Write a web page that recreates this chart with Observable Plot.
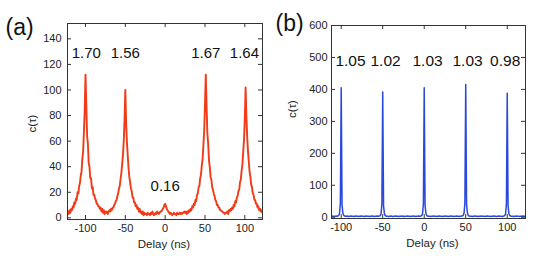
<!DOCTYPE html>
<html><head><meta charset="utf-8">
<script src="https://cdn.jsdelivr.net/npm/d3@7"></script>
<script src="https://cdn.jsdelivr.net/npm/@observablehq/plot@0.6"></script>
<style>
body{margin:0;background:#fff;}
#wrap{display:flex;width:540px;height:256px;}
</style></head><body><div id="wrap"></div>
<script>
// Panel (a): histogram counts, 1 ns bins starting at -122 ns
const startA = -122;
const countsA = [
 5,3,6,4,7,6,9,8,12,11,15,14,20,19,25,27,33,36,46,52,67,84,112,88,64,58,43,40,31,31,23,24,18,18,15,14,11,11,9,9,7,8,5,7,4,6,3,5,
 4,5,3,5,6,5,7,6,8,8,10,11,13,14,17,19,23,25,30,35,42,49,60,76,100,74,59,49,39,32,28,23,21,16,16,12,12,9,10,7,8,5,7,4,5,3,5,2,4,3,
 3,2,4,3,3,2,4,3,5,3,2,3,4,3,5,4,3,4,5,
 5,6,7,8,10,11,9,7,6,5,4,
 3,4,3,2,3,4,3,3,2,4,3,3,4,3,4,3,4,4,5,4,
 5,3,5,4,6,5,7,6,9,8,11,10,14,13,18,19,24,25,31,34,41,46,57,68,88,112,87,66,58,45,40,32,30,24,22,19,17,14,13,10,10,8,8,6,6,5,5,4,4,3,4,
 4,5,3,6,5,7,6,8,7,10,9,13,12,16,17,21,22,28,30,37,42,52,61,78,102,79,63,52,44,36,32,26,24,19,18,14,14,11,11,8,9,6,7,5,6,4
];
// Panel (b): histogram counts, 1 ns bins starting at -112 ns
const startB = -112;
const countsB = [
 3,4,3,3,2,3,4,3,4,6,
 12,45,405,38,13,6,4,3,3,4,
 3,2,3,3,4,3,3,2,3,3,
 4,3,3,2,3,3,4,3,3,3,
 2,3,4,3,3,3,2,3,3,4,
 3,3,2,3,3,4,3,3,4,5,
 11,40,392,36,12,5,4,3,3,2,
 3,3,4,3,2,3,3,3,4,3,
 3,2,3,3,3,4,3,3,2,3,
 3,3,4,3,3,2,3,3,3,4,
 3,3,2,3,3,4,3,3,4,5,
 12,42,405,37,13,5,4,3,3,3,
 2,3,3,4,3,3,3,2,3,3,
 4,3,3,3,2,3,3,4,3,3,
 3,2,3,3,4,3,3,3,2,3,
 3,4,3,3,2,3,3,4,4,6,
 13,44,415,40,14,6,4,3,3,3,
 2,3,3,4,3,3,3,2,3,3,
 3,4,3,3,3,2,3,3,4,3,
 3,3,2,3,3,3,4,3,3,2,
 3,3,4,3,3,3,2,3,4,5,
 11,40,388,36,12,5,4,3,3,3,
 2,3,3,4,3,3,3,2,3,3,
 3,4,3,3,3
];
const ticksX = [-100, -50, 0, 50, 100];
const ticksYA = [0, 20, 40, 60, 80, 100, 120, 140];
const ticksYB = [0, 100, 200, 300, 400, 500, 600];
// peak ratio annotations
const annoAText = ["1.70", "1.56", "0.16", "1.67", "1.64"];
const annoAX = [-99, -50, 0, 51, 99.5];
const annoAY = [129, 129, 24.6, 129, 129];
const annoBText = ["1.05", "1.02", "1.03", "1.03", "0.98"];
const annoBX = [-88.8, -46.6, 4, 52.2, 97.5];
const annoBY = [490, 490, 490, 490, 490];

const dataA = countsA.map((c, i) => ({x: startA + i, y: c}));
const dataB = countsB.map((c, i) => ({x: startB + i, y: c}));
const annoA = annoAText.map((t, i) => ({t, x: annoAX[i], y: annoAY[i]}));
const annoB = annoBText.map((t, i) => ({t, x: annoBX[i], y: annoBY[i]}));

const font = "'Liberation Sans', Arial, Helvetica, sans-serif";

function panel(o) {
  const fw = o.width - o.ml - o.mr;
  const fh = o.height - o.mt - o.mb;
  const tl = 4;
  return Plot.plot({
    width: o.width, height: o.height,
    marginLeft: o.ml, marginRight: o.mr, marginTop: o.mt, marginBottom: o.mb,
    style: {fontFamily: font, fontSize: "11px", color: "#222", background: "#fff", overflow: "visible"},
    x: {domain: o.xd, ticks: ticksX, tickFormat: d => String(d), tickSize: 0, tickPadding: 5, label: null},
    y: {domain: o.yd, ticks: o.yt, tickFormat: d => String(d), tickSize: 0, tickPadding: o.yp, label: null},
    marks: [
      Plot.line(o.data, {x: "x", y: "y", stroke: o.color, strokeWidth: o.sw, strokeLinejoin: "round", clip: true}),
      Plot.frame({stroke: "#333"}),
      Plot.tickY(o.yt, {y: d => d, insetRight: fw - tl, stroke: "#333"}),
      Plot.tickY(o.yt, {y: d => d, insetLeft: fw - tl, stroke: "#333"}),
      Plot.tickX(ticksX, {x: d => d, insetTop: fh - tl, stroke: "#333"}),
      Plot.tickX(ticksX, {x: d => d, insetBottom: fh - tl, stroke: "#333"}),
      Plot.text(o.anno, {x: "x", y: "y", text: "t", fontSize: o.afs, fill: "#111"}),
      Plot.text(["c(τ)"], {frameAnchor: "left", dx: o.ylx, dy: o.yly, rotate: -90, fontSize: 11.5, fill: "#222"}),
      Plot.text(["Delay (ns)"], {frameAnchor: "bottom", dx: o.xlx, dy: 28, fontSize: 11.5, fill: "#222"}),
      Plot.text([o.tag], {frameAnchor: "top-left", dx: o.tx, dy: o.ty, textAnchor: "start", fontSize: 23, fill: "#111"})
    ]
  });
}

const wrap = document.getElementById("wrap");
wrap.append(panel({
  width: 270, height: 256, ml: 67, mr: 8, mt: 23, mb: 37,
  xd: [-122.6, 122.2], yd: [-1.3, 152], yt: ticksYA, yp: 6,
  data: dataA, color: "#f23a18", sw: 1.9, anno: annoA, afs: 15,
  ylx: -35, yly: 11, xlx: -1, tag: "(a)", tx: -62, ty: -5
}));
wrap.append(panel({
  width: 270, height: 256, ml: 61, mr: 15, mt: 25, mb: 38,
  xd: [-111.7, 122], yd: [-4, 600], yt: ticksYB, yp: 4,
  data: dataB, color: "#2a48dc", sw: 1.5, anno: annoB, afs: 15.5,
  ylx: -39, yly: -4, xlx: 4, tag: "(b)", tx: -56, ty: -11
}));
</script></body></html>
